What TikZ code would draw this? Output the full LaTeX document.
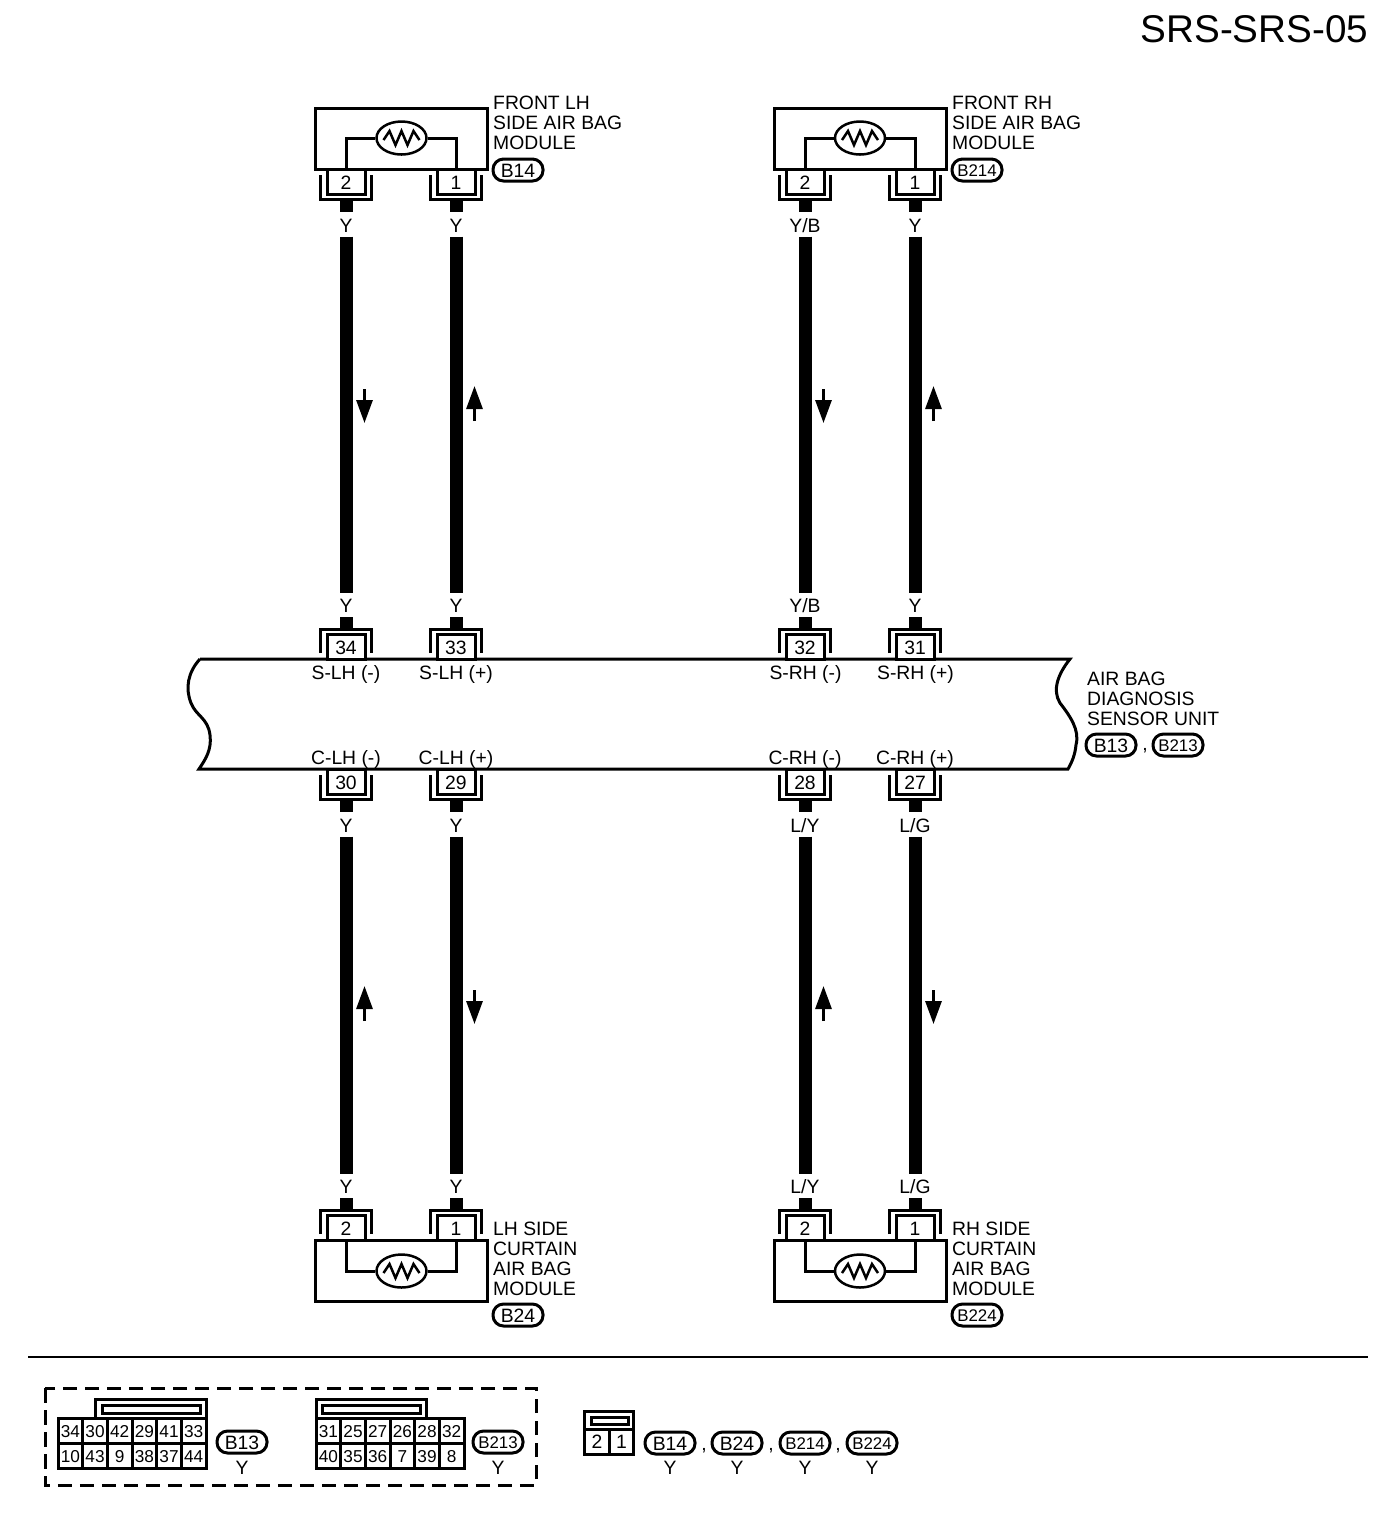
\documentclass[tikz,border=0pt]{standalone}
\usepackage{fontspec}
\setmainfont{Liberation Sans}
\usetikzlibrary{arrows.meta,shapes.geometric}
\tikzset{
  >={Triangle[length=2.3mm,width=1.6mm]},
  lbltext/.style={inner sep=0pt,font=\fontsize{5.5}{5.69}\selectfont},
  modlabel/.style={lbltext,anchor=west,align=left},
  modbox/.style={draw,line width=0.3mm,minimum width=17.2mm,minimum height=6.1mm,inner sep=0pt},
  resbody/.style={draw,fill=white,ellipse,line width=0.25mm,minimum width=5mm,minimum height=3.3mm,inner sep=0pt},
  pinbox/.style={lbltext,draw,fill=white,line width=0.3mm,minimum width=3.8mm,minimum height=2.5mm,text height=1.6mm,text depth=0pt},
  bracket/.style={line width=0.3mm},
  wire/.style={line width=1.3mm},
  wirelbl/.style={lbltext,minimum height=2.3mm,text height=1.5mm,text depth=0pt},
  flow/.style={line width=0.3mm,->},
  unitline/.style={line width=0.3mm},
  harness/.style={lbltext,draw,line width=0.3mm,rounded corners=3pt,minimum width=5mm,minimum height=2.2mm,text height=1.4mm,text depth=0pt},
  smallharness/.style={harness,text height=1.2mm,font=\fontsize{4.8}{5}\selectfont},
  cellbox/.style={draw,line width=0.3mm,inner sep=0pt,minimum width=2.467mm,minimum height=2.5mm,text height=1.35mm,text depth=0pt,font=\fontsize{4.9}{5}\selectfont},
  keybox/.style={line width=0.3mm}
}
% pin with its bracket: name, x, edge y, side (1 down, -1 up), number
\newcommand{\pinset}[5]{%
  \node[pinbox] (#1) at (#2,{#3+(#4)*12.5}) {#5};
  \draw[bracket] ({#2-25.5},{#3+(#4)*6}) -- ++(0,{(#4)*24}) -- ++(51,0) -- ++(0,{-(#4)*24});
  \coordinate (#1e) at (#2,{#3+(#4)*30});
}
% wire between two pins: pin a, pin b, x, y of first label, y of second label, label
\newcommand{\wirerun}[6]{%
  \node[wirelbl] (#1t) at (#3,#4) {#6};
  \node[wirelbl] (#1b) at (#3,#5) {#6};
  \draw[wire] (#1e) -- (#1t.north);
  \draw[wire] (#1t.south) -- (#1b.north);
  \draw[wire] (#1b.south) -- (#2e);
}
% module with squib: name, centre x, centre y
\newcommand{\squib}[3]{%
  \node[modbox] (#1) at (#2,#3) {};
}
\newcommand{\zigzag}[1]{%
  \draw[line width=0.25mm,shift={(#1.center)}] (-18,2) -- (-12,-7) -- (-6,7) -- (0,-7) -- (6,7) -- (12,-7) -- (18,2);
}
\begin{document}
\begin{tikzpicture}[x=0.1mm,y=-0.1mm]
  \useasboundingbox (0,0) rectangle (1392,1530);
  \node[anchor=east,inner sep=0pt,font=\fontsize{11}{12}\selectfont] (sheet) at (1369,29) {SRS-SRS-05};

  % modules
  \squib{mfl}{401.5}{138.5}
  \squib{mfr}{860}{138.5}
  \squib{mcl}{401.5}{1270.5}
  \squib{mcr}{860}{1270.5}
  \pinset{fl2}{346}{169}{1}{2}
  \pinset{fl1}{456}{169}{1}{1}
  \pinset{fr2}{805}{169}{1}{2}
  \pinset{fr1}{915}{169}{1}{1}
  \pinset{cl2}{346}{1240}{-1}{2}
  \pinset{cl1}{456}{1240}{-1}{1}
  \pinset{cr2}{805}{1240}{-1}{2}
  \pinset{cr1}{915}{1240}{-1}{1}
  \node[resbody] (rfl) at (401.5,138) {};
  \node[resbody] (rfr) at (860,138) {};
  \node[resbody] (rcl) at (401.5,1271) {};
  \node[resbody] (rcr) at (860,1271) {};
  \foreach \r/\a/\b in {rfl/fl2/fl1,rfr/fr2/fr1} {
    \draw[bracket] (\a.north) |- (\r.west);
    \draw[bracket] (\b.north) |- (\r.east);
    \zigzag{\r}
  }
  \foreach \r/\a/\b in {rcl/cl2/cl1,rcr/cr2/cr1} {
    \draw[bracket] (\a.south) |- (\r.west);
    \draw[bracket] (\b.south) |- (\r.east);
    \zigzag{\r}
  }

  % sensor unit
  \draw[unitline] (200,659) -- (1070,659) .. controls (1058,674) and (1052,690) .. (1060,703)
    .. controls (1070,716) and (1080,730) .. (1076,745) .. controls (1075,755) and (1072,762) .. (1068,769)
    -- (199,769) .. controls (205,760) and (212,750) .. (210,735)
    .. controls (208,718) and (196,716) .. (191,703) .. controls (185,688) and (188,672) .. (200,659);
  \pinset{u34}{346}{659}{-1}{34}
  \pinset{u33}{456}{659}{-1}{33}
  \pinset{u32}{805}{659}{-1}{32}
  \pinset{u31}{915}{659}{-1}{31}
  \pinset{u30}{346}{769}{1}{30}
  \pinset{u29}{456}{769}{1}{29}
  \pinset{u28}{805}{769}{1}{28}
  \pinset{u27}{915}{769}{1}{27}
  \foreach \n/\x/\t in {slm/346/S-LH (-),slp/456/S-LH (+),srm/805.5/S-RH (-),srp/915.5/S-RH (+)}
    \node[lbltext] (\n) at (\x,674) {\t};
  \foreach \n/\x/\t in {clm/346/C-LH (-),clp/456/C-LH (+),crm/805/C-RH (-),crp/915/C-RH (+)}
    \node[lbltext] (\n) at (\x,759.5) {\t};

  % wires
  \wirerun{fl2}{u34}{346}{224.5}{605}{Y}
  \wirerun{fl1}{u33}{456}{224.5}{605}{Y}
  \wirerun{fr2}{u32}{805}{224.5}{605}{Y/B}
  \wirerun{fr1}{u31}{915}{224.5}{605}{Y}
  \wirerun{u30}{cl2}{346}{824.5}{1186}{Y}
  \wirerun{u29}{cl1}{456}{824.5}{1186}{Y}
  \wirerun{u28}{cr2}{805}{824.5}{1186}{L/Y}
  \wirerun{u27}{cr1}{915}{824.5}{1186}{L/G}

  % current direction
  \foreach \i/\x/\ya/\yb in {1/364.5/389/423,2/474.5/421/386,3/823.5/389/423,4/933.5/421/386,
                             5/364.5/1021/986,6/474.5/990/1024,7/823.5/1021/986,8/933.5/990/1024} {
    \coordinate (ar\i a) at (\x,\ya);
    \coordinate (ar\i b) at (\x,\yb);
    \draw[flow] (ar\i a) -- (ar\i b);
  }

  % labels
  \node[modlabel] (tfl) at (492.5,123) {FRONT LH\\SIDE AIR BAG\\MODULE};
  \node[harness] (hfl) at (518,170) {B14};
  \node[modlabel] (tfr) at (951.5,123) {FRONT RH\\SIDE AIR BAG\\MODULE};
  \node[smallharness] (hfr) at (977,170) {B214};
  \node[modlabel] (tcl) at (492.5,1259) {LH SIDE\\CURTAIN\\AIR BAG\\MODULE};
  \node[harness] (hcl) at (518,1315) {B24};
  \node[modlabel] (tcr) at (951.5,1259) {RH SIDE\\CURTAIN\\AIR BAG\\MODULE};
  \node[smallharness] (hcr) at (977,1315) {B224};
  \node[modlabel] (tun) at (1086.5,698.5) {AIR BAG\\DIAGNOSIS\\SENSOR UNIT};
  \node[harness] (hua) at (1111,745) {B13};
  \node[lbltext] (cun) at (1145,751) {,};
  \node[smallharness] (hub) at (1178,745) {B213};

  % connector views
  \draw[line width=0.2mm] (28,1357) -- (1368,1357);
  \draw[line width=0.3mm,dash pattern=on 1.45mm off 0.75mm] (45,1388) rectangle (536,1485);

  \draw[keybox] (95,1399) rectangle (206,1418);
  \draw[keybox] (102,1405) rectangle (200,1413);
  \foreach \i/\t in {1/34,2/30,3/42,4/29,5/41,6/33}
    \node[cellbox] (a\i) at ({58+24.67*(\i-0.5)},1430.5) {\t};
  \foreach \i/\t in {1/10,2/43,3/9,4/38,5/37,6/44}
    \node[cellbox] (c\i) at ({58+24.67*(\i-0.5)},1455.5) {\t};
  \node[harness] (hb13) at (242,1442) {B13};
  \node[wirelbl] (yb13) at (242,1467) {Y};

  \draw[keybox] (316,1399) rectangle (426,1418);
  \draw[keybox] (322,1405) rectangle (420,1413);
  \foreach \i/\t in {1/31,2/25,3/27,4/26,5/28,6/32}
    \node[cellbox] (d\i) at ({316+24.67*(\i-0.5)},1430.5) {\t};
  \foreach \i/\t in {1/40,2/35,3/36,4/7,5/39,6/8}
    \node[cellbox] (f\i) at ({316+24.67*(\i-0.5)},1455.5) {\t};
  \node[smallharness] (hb213) at (498,1442) {B213};
  \node[wirelbl] (yb213) at (498,1467) {Y};

  \draw[keybox] (584.5,1411) rectangle (633.5,1429);
  \draw[keybox] (591,1417) rectangle (628,1424);
  \node[cellbox,lbltext,draw,line width=0.3mm,minimum width=2.45mm,minimum height=2.5mm] (s2) at (597,1441.5) {2};
  \node[cellbox,lbltext,draw,line width=0.3mm,minimum width=2.45mm,minimum height=2.5mm] (s1) at (621.5,1441.5) {1};
  \node[harness] (kb14) at (670,1443) {B14};
  \node[harness] (kb24) at (737,1443) {B24};
  \node[smallharness] (kb214) at (805,1443) {B214};
  \node[smallharness] (kb224) at (872,1443) {B224};
  \foreach \n/\x in {ka/704,kb/771,kc/838}
    \node[lbltext] (\n) at (\x,1451) {,};
  \foreach \n/\x in {ya/670,yb/737,yc/805,yd/872}
    \node[wirelbl] (\n) at (\x,1467) {Y};
\end{tikzpicture}
\end{document}
